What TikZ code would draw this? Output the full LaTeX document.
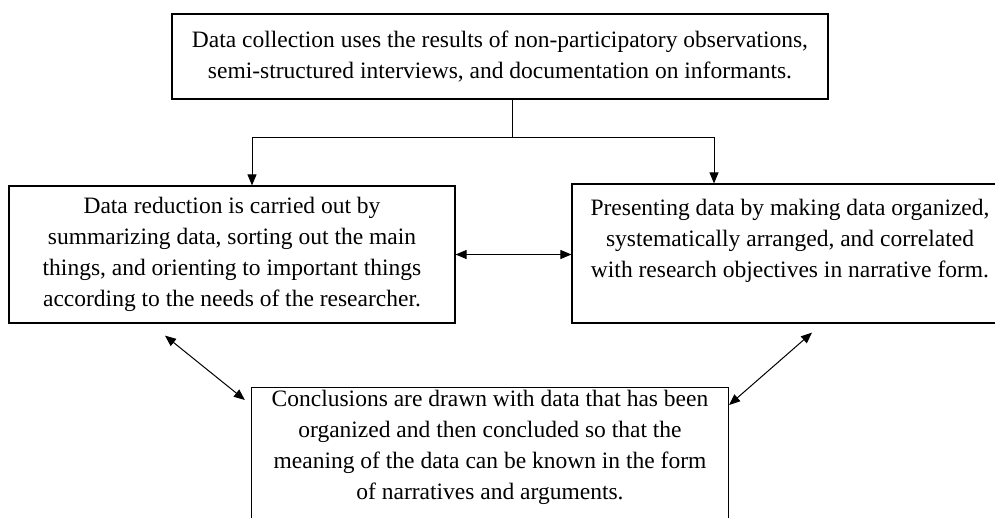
\documentclass[tikz,border=0pt]{standalone}
\usepackage{fontspec}
\setmainfont{Liberation Serif}
\usetikzlibrary{arrows.meta, calc}

\begin{document}
\begin{tikzpicture}[x=1pt, y=-1pt,
  every node/.style={draw, line width=1.2pt, align=center, font=\fontsize{23.5}{30.8}\selectfont},
  link/.style={line width=1pt, -{Triangle[length=11pt, width=9pt]}},
  twoway/.style={line width=1pt, {Triangle[length=11pt, width=9pt]}-{Triangle[length=11pt, width=9pt]}}]
\path[use as bounding box, clip] (0,0) rectangle (995,517);
\node (collect) at (500,56.5) [minimum width=656pt, minimum height=85pt]
  {Data collection uses the results of non-participatory observations,\\
   semi-structured interviews, and documentation on informants.};
\node (reduce) at (232,254.5) [minimum width=446pt, minimum height=137pt]
  {Data reduction is carried out by\\
   summarizing data, sorting out the main\\
   things, and orienting to important things\\
   according to the needs of the researcher.};
\node (present) at (790,253.5) [minimum width=436pt, minimum height=139pt]
  {Presenting data by making data organized,\\
   systematically arranged, and correlated\\
   with research objectives in narrative form.\\ \mbox{}};
\node (conclude) at (490,387) [anchor=north, minimum width=477pt, inner ysep=3pt]
  {Conclusions are drawn with data that has been\\
   organized and then concluded so that the\\
   meaning of the data can be known in the form\\
   of narratives and arguments.\\[20pt] \mbox{}};
\coordinate (split) at (512,137);
\draw[line width=1pt] (collect.south -| split) -- (split);
\draw[link] (split) -| ([xshift=20pt]reduce.north);
\draw[link] (split) -| ([xshift=-76pt]present.north);
\draw[twoway] (reduce.east) -- (reduce.east -| present.west);
\draw[twoway] ([shift={(-67,12)}]reduce.south) -- ([shift={(-6,13)}]conclude.north west);
\draw[twoway] ([shift={(22,9)}]present.south) -- ([shift={(0,18)}]conclude.north east);
\end{tikzpicture}
\end{document}
